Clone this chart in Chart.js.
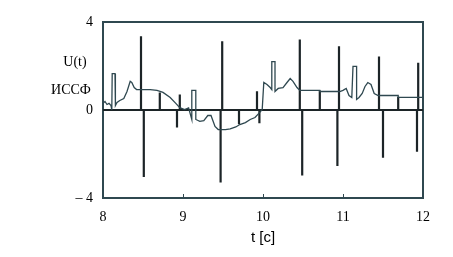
<!DOCTYPE html>
<html>
<head>
<meta charset="utf-8">
<script src="https://cdn.jsdelivr.net/npm/chart.js@4"></script>
<style>
  body { margin: 0; background: #fff; }
  canvas { display: block; }
</style>
</head>
<body>
<canvas id="chart" width="453" height="257"></canvas>
<script>
// U(t) curve
const uTimes = [8.0, 8.025, 8.05, 8.075, 8.1, 8.11, 8.115, 8.15, 8.155, 8.175, 8.21, 8.26, 8.3, 8.34, 8.36, 8.39, 8.42, 8.475,
  8.59, 8.675, 8.75, 8.84, 8.91, 8.96, 9.02, 9.07, 9.11, 9.11, 9.16, 9.16, 9.21, 9.26, 9.31, 9.35, 9.4, 9.44, 9.53, 9.59,
  9.66, 9.71, 9.78, 9.84, 9.9, 9.96, 9.99, 10.01, 10.05, 10.09, 10.11, 10.11, 10.15, 10.15, 10.19, 10.25, 10.3, 10.34,
  10.375, 10.425, 10.46, 10.71, 10.71, 10.96, 11.0, 11.04, 11.075, 11.11, 11.125, 11.17, 11.17, 11.2, 11.24, 11.275,
  11.31, 11.35, 11.39, 11.44, 11.69, 11.69, 12.0];
const uValues = [0.3, 0.39, 0.25, 0.3, 0.2, 0.0, 1.65, 1.65, 0.2, 0.34, 0.43, 0.52, 0.84, 1.3, 1.25, 1.02, 0.93, 0.93,
  0.93, 0.89, 0.8, 0.57, 0.3, 0.11, 0.02, 0.1, -0.43, 0.89, 0.89, -0.43, -0.52, -0.48, -0.25, -0.25, -0.75, -0.89, -0.89, -0.86,
  -0.77, -0.66, -0.57, -0.43, -0.34, -0.11, 0.02, 1.25, 1.16, 1.02, 0.93, 2.2, 2.2, 0.84, 0.98, 1.02, 1.25, 1.43,
  1.3, 1.02, 0.89, 0.89, 0.84, 0.84, 0.89, 0.98, 0.66, 0.57, 1.98, 1.98, 0.48, 0.57, 0.75, 1.07,
  1.25, 1.16, 0.75, 0.66, 0.66, 0.57, 0.57];

// ИССФ impulses
const spikeTimes = [8.475, 8.51, 8.71, 8.925, 8.96, 9.47, 9.49, 9.7, 9.925, 9.955, 10.46, 10.49, 10.71,
  10.93, 10.95, 11.45, 11.5, 11.69, 11.925, 11.94];
const spikeValues = [3.35, -3.05, 0.8, -0.8, 0.7, -3.3, 3.13, -0.65, 0.85, -0.6, 3.2, -2.98, 0.89,
  -2.55, 2.9, 2.43, -2.17, 0.6, -1.9, 2.15];

const xTicks = [8, 9, 10, 11, 12];
const yTicks = [-4, 0, 4];
const yLabels = ['U(t)', 'ИССФ'];

const slate = '#2f4850';

const uPoints = uTimes.map((t, i) => ({ x: t, y: uValues[i] }));
const spikePoints = [{ x: 8, y: 0 }];
spikeTimes.forEach((t, i) => {
  spikePoints.push({ x: t, y: 0 }, { x: t, y: spikeValues[i] }, { x: t, y: 0 });
});
spikePoints.push({ x: 12, y: 0 });

const framePlugin = {
  id: 'frame',
  beforeDatasetsDraw(chart) {
    const { ctx, chartArea: a, scales } = chart;
    ctx.save();
    ctx.strokeStyle = slate;
    ctx.lineWidth = 2;
    ctx.strokeRect(a.left, a.top, a.right - a.left, a.bottom - a.top);
    // small inner ticks on the time axis
    ctx.lineWidth = 1;
    xTicks.slice(1, -1).forEach(v => {
      const px = Math.round(scales.x.getPixelForValue(v)) + 0.5;
      ctx.beginPath();
      ctx.moveTo(px, a.bottom);
      ctx.lineTo(px, a.bottom - 4);
      ctx.stroke();
    });
    ctx.restore();
  },
  afterDraw(chart) {
    const { ctx } = chart;
    ctx.save();
    ctx.fillStyle = '#000';
    ctx.font = '14px "Liberation Serif", serif';
    ctx.textAlign = 'center';
    ctx.textBaseline = 'middle';
    ctx.fillText(yLabels[0], 75, 62);
    ctx.fillText(yLabels[1], 71, 90);
    ctx.restore();
  }
};

new Chart(document.getElementById('chart'), {
  type: 'line',
  data: {
    datasets: [
      {
        label: 'U(t)',
        data: uPoints,
        borderColor: slate,
        borderWidth: 1.3,
        pointRadius: 0,
        tension: 0
      },
      {
        label: 'ИССФ',
        data: spikePoints,
        borderColor: '#1c2427',
        borderWidth: 2.2,
        pointRadius: 0,
        tension: 0
      }
    ]
  },
  options: {
    responsive: false,
    animation: false,
    events: [],
    layout: { padding: { left: 0, right: 30, top: 22, bottom: 0 } },
    plugins: { legend: { display: false }, tooltip: { enabled: false } },
    scales: {
      x: {
        type: 'linear',
        min: 8,
        max: 12,
        afterBuildTicks: s => { s.ticks = xTicks.map(v => ({ value: v })); },
        afterFit: s => { s.height = 59; },
        grid: { display: false, drawTicks: false },
        border: { display: false },
        ticks: {
          padding: 11,
          color: '#000',
          font: { family: '"Liberation Serif", serif', size: 14 },
          callback: v => String(v)
        },
        title: {
          display: true,
          text: 't [c]',
          color: '#000',
          padding: { top: 0, bottom: 10 },
          font: { family: '"Liberation Sans", Arial, sans-serif', size: 15 }
        }
      },
      y: {
        min: -4,
        max: 4,
        afterBuildTicks: s => { s.ticks = yTicks.map(v => ({ value: v })); },
        afterFit: s => { s.width = 103; },
        grid: {
          drawTicks: false,
          lineWidth: 2,
          color: c => (c.tick && c.tick.value === 0 ? slate : 'rgba(0,0,0,0)')
        },
        border: { display: false },
        ticks: {
          padding: 10,
          color: '#000',
          font: { family: '"Liberation Serif", serif', size: 14 },
          callback: v => (v < 0 ? '– ' + Math.abs(v) : String(v))
        }
      }
    }
  },
  plugins: [framePlugin]
});
</script>
</body>
</html>
